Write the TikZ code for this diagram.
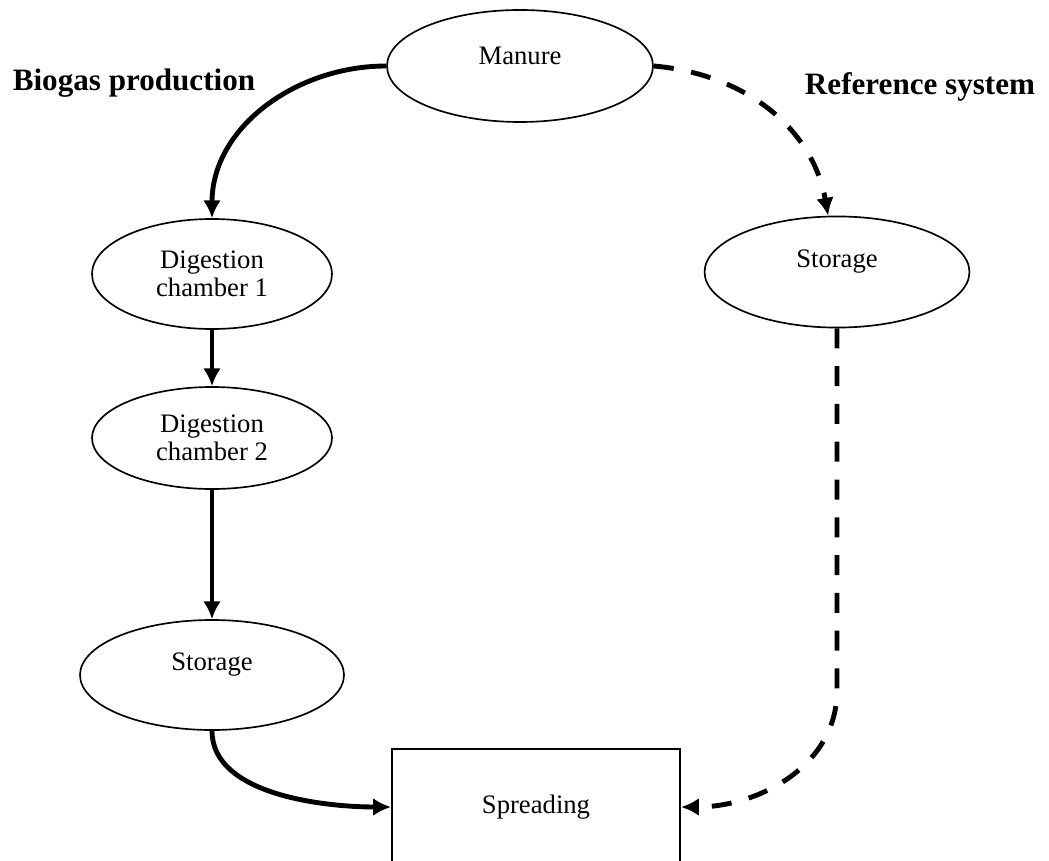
\documentclass[tikz,border=0pt]{standalone}
\usepackage{fontspec}
\setmainfont{Liberation Serif}
\usetikzlibrary{shapes, arrows.meta, positioning}
\tikzstyle{blob} = [draw, ellipse, line width=0.75pt, inner sep=0pt, align=center, font=\fontsize{12}{12.6}\selectfont]
\tikzstyle{block} = [draw, rectangle, line width=0.9pt, inner sep=0pt, font=\fontsize{12}{14}\selectfont]
\tikzstyle{flow} = [line width=2.2pt, ->]
\tikzstyle{refflow} = [line width=2.2pt, ->, dash pattern=on 9pt off 8pt]
\tikzstyle{heading} = [font=\fontsize{14}{16}\selectfont\bfseries]

\begin{document}
\begin{tikzpicture}[auto, >={Latex[length=8pt,width=8pt]}, x=0.45pt, y=0.45pt]
    \useasboundingbox (0,0) rectangle (1049,-860);
    \node [blob, minimum width=119.7pt, minimum height=50.4pt, text height=0pt, text depth=1pt] (manure) at (520,-66) {Manure};
    \node [blob, minimum width=108pt, minimum height=49.5pt] (dc1) at (212,-274) {Digestion\\chamber 1};
    \node [blob, minimum width=108pt, minimum height=45.9pt, below of=dc1, node distance=73.8pt] (dc2) {Digestion\\chamber 2};
    \node [blob, minimum width=118.8pt, minimum height=49.5pt, text height=0pt, text depth=4pt, below of=dc2, node distance=106.65pt] (stoL) {Storage};
    \node [blob, minimum width=119.2pt, minimum height=50pt, text height=0pt, text depth=4pt] (stoR) at (837,-272) {Storage};
    \node [block, minimum width=129.6pt, minimum height=52.2pt] (spread) at (536,-807) {Spreading};
    \node [heading] (biogas) at (134,-83) {Biogas production};
    \node [heading] (ref) at (920,-87) {Reference system};
    % biogas route
    \draw [flow] (manure.west) to[out=180,in=90] (dc1.north);
    \draw [flow] (dc1.south) -- (dc2.north);
    \draw [flow] (dc2.south) -- (stoL.north);
    \draw [flow] (stoL.south) to[out=-90,in=180,looseness=0.85] (spread.west);
    % reference route
    \draw [refflow] (manure.east) to[out=-5,in=100] ([xshift=-4pt]stoR.north);
    \draw [refflow] (stoR.south) -- ++(0,-362) to[out=-90,in=0] (spread.east);
\end{tikzpicture}
\end{document}
